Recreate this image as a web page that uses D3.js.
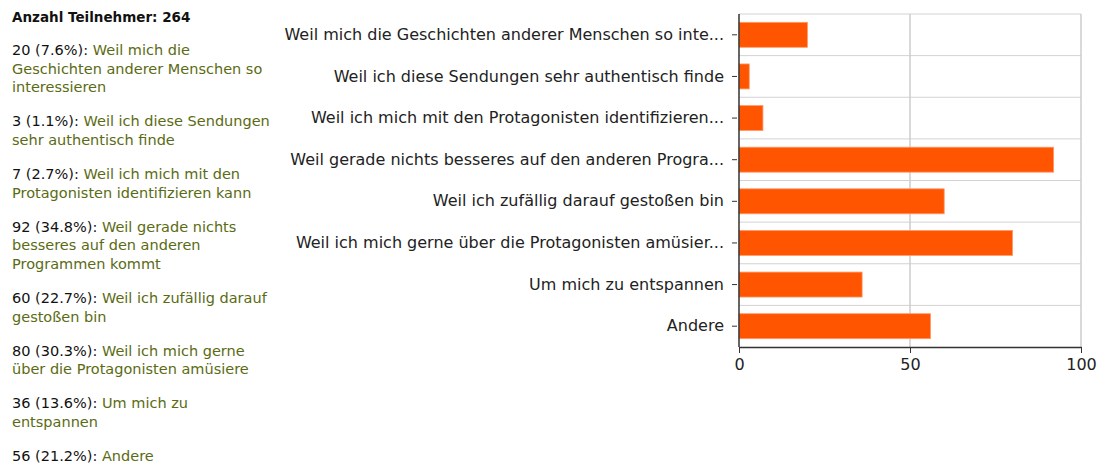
<!DOCTYPE html>
<html>
<head>
<meta charset="utf-8">
<script src="https://cdn.jsdelivr.net/npm/d3@7"></script>
<style>
  body { margin: 0; background: #fff; }
  svg { display: block; }
</style>
</head>
<body>
<svg id="chart" width="1101" height="468"></svg>
<script>
const total = 264;
const values = [20, 3, 7, 92, 60, 80, 36, 56];
const percents = ["7.6%", "1.1%", "2.7%", "34.8%", "22.7%", "30.3%", "13.6%", "21.2%"];
const axisLabels = [
    "Weil mich die Geschichten anderer Menschen so inte...",
    "Weil ich diese Sendungen sehr authentisch finde",
    "Weil ich mich mit den Protagonisten identifizieren...",
    "Weil gerade nichts besseres auf den anderen Progra...",
    "Weil ich zufällig darauf gestoßen bin",
    "Weil ich mich gerne über die Protagonisten amüsier...",
    "Um mich zu entspannen",
    "Andere"
];
// answer texts, split the way the summary wraps them
const answerLines = [
    ["Weil mich die", "Geschichten anderer Menschen so", "interessieren"],
    ["Weil ich diese Sendungen", "sehr authentisch finde"],
    ["Weil ich mich mit den", "Protagonisten identifizieren kann"],
    ["Weil gerade nichts", "besseres auf den anderen", "Programmen kommt"],
    ["Weil ich zufällig darauf", "gestoßen bin"],
    ["Weil ich mich gerne", "über die Protagonisten amüsiere"],
    ["Um mich zu", "entspannen"],
    ["Andere"]
];
const xTicks = [0, 50, 100];

const svg = d3.select('#chart');

// ---- summary on the left
const summaryFont = '"DejaVu Sans", sans-serif';
const summary = svg.append('g').attr('font-family', summaryFont).attr('font-size', 14.5);

summary.append('text')
    .attr('x', 12).attr('y', 22)
    .attr('font-weight', 'bold').attr('font-size', 13.5).attr('fill', '#111')
    .text('Anzahl Teilnehmer: ' + total);

let yy = 55;
const lineH = 18.6;
answerLines.forEach((lines, i) => {
    lines.forEach((line, j) => {
        const t = summary.append('text').attr('x', 12).attr('y', yy);
        if (j === 0) {
            t.append('tspan').attr('fill', '#111').text(values[i] + ' (' + percents[i] + '): ');
        }
        t.append('tspan').attr('fill', '#5b6b14').text(line);
        yy += lineH;
    });
    yy += 15.5;
});

// ---- bar chart
const margin = {left: 739, top: 14, right: 20, bottom: 121};
const w = 1081 - margin.left;
const h = 347 - margin.top;

const g = svg.append('g').attr('transform', `translate(${margin.left},${margin.top})`);

const x = d3.scaleLinear().domain([0, 100]).range([0, w]);
const y = d3.scaleBand().domain(d3.range(values.length)).range([0, h]).paddingInner(0.4).paddingOuter(0.2);
const yRow = d3.scaleBand().domain(d3.range(values.length)).range([0, h]);

// grid
g.append('g').selectAll('line.h')
    .data(d3.range(values.length))
    .join('line')
    .attr('x1', 0).attr('x2', w)
    .attr('y1', d => yRow(d)).attr('y2', d => yRow(d))
    .attr('stroke', '#d2d2d2');
g.append('g').selectAll('line.v')
    .data(xTicks.slice(1))
    .join('line')
    .attr('x1', d => x(d)).attr('x2', d => x(d))
    .attr('y1', 0).attr('y2', h)
    .attr('stroke', '#cccccc').attr('stroke-width', 1.5);

// bars
g.append('g').selectAll('rect')
    .data(values)
    .join('rect')
    .attr('x', x(0))
    .attr('y', (d, i) => y(i))
    .attr('width', d => x(d) - x(0))
    .attr('height', y.bandwidth())
    .attr('fill', '#ff5500')
    .attr('stroke', '#ff9a6a')
    .attr('stroke-width', 0.8);

// y axis
const yAxis = d3.axisLeft(yRow).tickSize(5).tickPadding(8).tickFormat(i => axisLabels[i]);
const ya = g.append('g').attr('transform', 'translate(-2,0)').call(yAxis);
ya.select('.domain').remove();
ya.selectAll('.tick line').attr('stroke', '#333');
ya.selectAll('.tick text')
    .attr('font-family', '"DejaVu Sans", sans-serif')
    .attr('font-size', 16).attr('fill', '#222');
g.append('line').attr('x1', 0).attr('x2', 0).attr('y1', 0).attr('y2', h)
    .attr('stroke', '#333').attr('stroke-width', 1.5);

// x axis
const xAxis = d3.axisBottom(x).tickValues(xTicks).tickSize(6).tickPadding(6).tickSizeOuter(0);
const xa = g.append('g').attr('transform', `translate(0,${h})`).call(xAxis);
xa.select('.domain').attr('stroke', '#333').attr('stroke-width', 1.5);
xa.selectAll('.tick line').attr('stroke', '#333');
xa.selectAll('.tick text')
    .attr('font-family', '"DejaVu Sans", sans-serif')
    .attr('font-size', 16).attr('fill', '#222');
</script>
</body>
</html>
